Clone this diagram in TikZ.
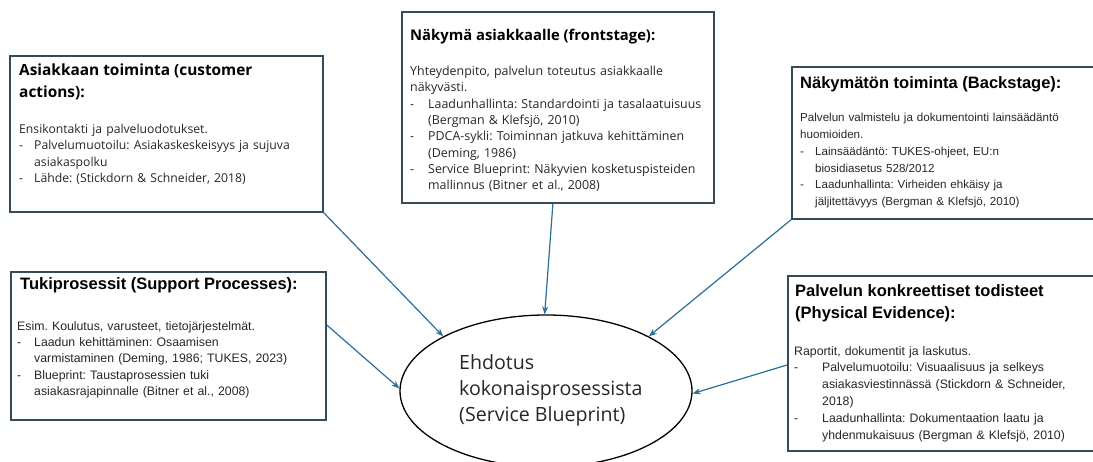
\documentclass[tikz,border=0pt]{standalone}
\usepackage{fontspec}
\setmainfont{Liberation Sans}
\newfontfamily\aptos{Open Sans}
\usetikzlibrary{arrows.meta,calc,shapes.geometric}
\definecolor{boxc}{HTML}{354B5A}
\definecolor{arrc}{HTML}{2A6D96}
\definecolor{txtc}{HTML}{262626}
\newcommand{\itm}[2][15pt]{\hangindent=#1\hangafter=1\noindent\makebox[#1][l]{-}#2\par}
\tikzset{
  box/.style={draw=boxc, line width=1.8pt, rectangle, inner sep=0pt},
  ttl/.style={anchor=north west, inner sep=0pt, text=black, align=left, font=\bfseries\fontsize{16.5}{22}\selectfont},
  bdy/.style={anchor=north west, inner sep=0pt, text=txtc, font=\fontsize{11.6}{16.8}\selectfont},
  conn/.style={draw=arrc, line width=1.2pt, -{Stealth[length=8pt,width=6pt]}}
}
\begin{document}
\begin{tikzpicture}[x=1pt,y=-1pt]
\useasboundingbox (0,0) rectangle (1093,461);
\clip (0,0) rectangle (1093,461);
% boxes
\node[box, anchor=north west, minimum width=313pt, minimum height=156pt] (b1) at (9,55) {};
\node[box, anchor=north west, minimum width=312pt, minimum height=191pt] (b2) at (401,11) {};
\node[box, anchor=north west, minimum width=320pt, minimum height=152pt] (b3) at (791,66) {};
\node[box, anchor=north west, minimum width=315pt, minimum height=148pt] (b4) at (10,271) {};
\node[box, anchor=north west, minimum width=320pt, minimum height=175pt] (b5) at (787,275) {};
% texts box 1
\node[ttl, font=\aptos\bfseries\fontsize{15.4}{22}\selectfont] (t1) at (19,64) {Asiakkaan toiminta (customer\\actions):};
\node[bdy, text width=300pt, font=\aptos\fontsize{12.2}{16.5}\selectfont] (d1) at (19,124) {\raggedright\frenchspacing\noindent Ensikontakti ja palveluodotukset.\par\itm{Palvelumuotoilu: Asiakaskeskeisyys ja sujuva\newline asiakaspolku}\itm{Lähde: (Stickdorn \& Schneider, 2018)}};
% box 2
\node[ttl, font=\aptos\bfseries\fontsize{14.8}{20}\selectfont] (t2) at (410,29) {Näkymä asiakkaalle (frontstage):};
\node[bdy, text width=300pt, font=\aptos\fontsize{12.4}{16.3}\selectfont] (d2) at (410,66) {\raggedright\frenchspacing\noindent Yhteydenpito, palvelun toteutus asiakkaalle\newline näkyvästi.\par\itm[18pt]{Laadunhallinta: Standardointi ja tasalaatuisuus\newline (Bergman \& Klefsjö, 2010)}\itm[18pt]{PDCA-sykli: Toiminnan jatkuva kehittäminen\newline (Deming, 1986)}\itm[18pt]{Service Blueprint: Näkyvien kosketuspisteiden\newline mallinnus (Bitner et al., 2008)}};
% box 3
\node[ttl] (t3) at (800,76) {Näkymätön toiminta (Backstage):};
\node[bdy, text width=300pt] (d3) at (800,113) {\raggedright\frenchspacing\noindent Palvelun valmistelu ja dokumentointi lainsäädäntö\newline huomioiden.\par\itm{Lainsäädäntö: TUKES-ohjeet, EU:n\newline biosidiasetus 528/2012}\itm{Laadunhallinta: Virheiden ehkäisy ja\newline jäljitettävyys (Bergman \& Klefsjö, 2010)}};
% box 4
\node[ttl] (t4) at (20,277) {Tukiprosessit (Support Processes):};
\node[bdy, text width=300pt, font=\fontsize{12.3}{16.3}\selectfont] (d4) at (17,321) {\raggedright\frenchspacing\noindent Esim. Koulutus, varusteet, tietojärjestelmät.\par\itm[17pt]{Laadun kehittäminen: Osaamisen\newline varmistaminen (Deming, 1986; TUKES, 2023)}\itm[17pt]{Blueprint: Taustaprosessien tuki\newline asiakasrajapinnalle (Bitner et al., 2008)}};
% box 5
\node[ttl] (t5) at (795,284) {Palvelun konkreettiset todisteet\\(Physical Evidence):};
\node[bdy, text width=300pt, font=\fontsize{12.3}{16.8}\selectfont] (d5) at (794,346) {\raggedright\frenchspacing\noindent Raportit, dokumentit ja laskutus.\par\itm[28pt]{Palvelumuotoilu: Visuaalisuus ja selkeys\newline asiakasviestinnässä (Stickdorn \& Schneider,\newline 2018)}\itm[28pt]{Laadunhallinta: Dokumentaation laatu ja\newline yhdenmukaisuus (Bergman \& Klefsjö, 2010)}};
% ellipse
\node[draw=black, line width=1.3pt, ellipse, minimum width=292pt, minimum height=152pt, inner sep=0pt] (e) at (546,391) {};
\node[anchor=north west, inner sep=0pt, align=left, text=txtc, font=\aptos\fontsize{19.6}{26}\selectfont] (et) at (459,354) {Ehdotus\\kokonaisprosessista\\(Service Blueprint)};
% connectors
\draw[conn] (b1.south east) -- (e.152);
\draw[conn] ([xshift=-5pt]b2.south) -- (e.91);
\draw[conn] (b3.south west) -- (e.28);
\draw[conn] ($(b4.north east)+(0,54)$) -- (e.179);
\draw[conn] ($(b5.north west)+(0,90)$) -- (e.-1);
\end{tikzpicture}
\end{document}
